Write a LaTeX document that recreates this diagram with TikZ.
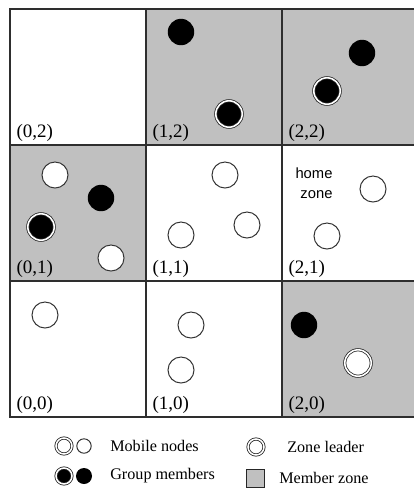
\documentclass[tikz,border=0pt]{standalone}
\usepackage{fontspec}
\setmainfont{Liberation Serif}
\newfontfamily\labelsans{Liberation Sans}
\usetikzlibrary{positioning}
\definecolor{zonegray}{HTML}{C0C0C0}
\definecolor{gridline}{HTML}{2E2E2E}
\tikzset{
  zone/.style={draw=gridline,line width=1pt,minimum size=3.4cm,inner sep=0pt},
  cellname/.style={anchor=base west,font=\fontsize{13.5}{15}\selectfont,inner sep=0pt},
  mnode/.style={circle,draw=black!80,line width=0.7pt,fill=white,minimum size=0.65cm,inner sep=0pt},
  gmember/.style={circle,fill=black,minimum size=0.66cm,inner sep=0pt},
  leader/.style={circle,draw=black!85,line width=0.55pt,double=white,double distance=1.1pt,minimum size=0.66cm,inner sep=0pt},
  keytext/.style={anchor=west,font=\fontsize{11.5}{13}\selectfont,inner sep=0pt},
}
\begin{document}
\begin{tikzpicture}[x=0.025cm,y=-0.025cm,
  smallm/.style={mnode,minimum size=0.36cm},
  smallg/.style={gmember,minimum size=0.4cm},
  smalll/.style={leader,minimum size=0.4cm}]
  \useasboundingbox[fill=white] (0,0) rectangle (414,488);
  % zones of the grid, member zones in gray
  \foreach \c/\r/\f in {0/2/white,1/2/zonegray,2/2/zonegray,0/1/zonegray,1/1/white,2/1/white,0/0/white,1/0/white,2/0/zonegray}{
    \node[zone,fill=\f] (z\c\r) at ({78+136*\c},{77+136*(2-\r)}) {};
    \node[cellname] (n\c\r) at ([shift={(7,-8)}]z\c\r.south west) {(\c,\r)};
  }
  % row 2
  \node[gmember] (g12) at (181,32) {};
  \node[leader,fill=black] (l12) at (229,114) {};
  \node[gmember] (g22) at (362,53) {};
  \node[leader,fill=black] (l22) at (327,91) {};
  % row 1
  \node[mnode] (m01a) at (55,175) {};
  \node[gmember] (g01) at (101,198) {};
  \node[leader,fill=black] (l01) at (41,227) {};
  \node[mnode] (m01b) at (111,258) {};
  \node[mnode] (m11a) at (225,175) {};
  \node[mnode] (m11b) at (181,235) {};
  \node[mnode] (m11c) at (247,225) {};
  \node[align=right,inner sep=0pt,font=\labelsans\fontsize{10.5}{14}\selectfont] (home) at (314,183) {home\\zone};
  \node[mnode] (m21a) at (373,189) {};
  \node[mnode] (m21b) at (327,236) {};
  % row 0
  \node[mnode] (m00) at (45,315) {};
  \node[mnode] (m10a) at (191,325) {};
  \node[mnode] (m10b) at (181,370) {};
  \node[gmember] (g20) at (304,325) {};
  \node[leader,fill=white] (l20) at (358,363) {};
  % legend
  \node[smalll,fill=white] (kml) at (64,446) {};
  \node[smallm] (km) at (84,446) {};
  \node[keytext] (tm) at (110,446) {Mobile nodes};
  \node[smalll,fill=black] (kgl) at (64,476) {};
  \node[smallg] (kg) at (84,476) {};
  \node[keytext] (tg) at (110,476) {Group members};
  \node[smalll,fill=white] (kl) at (256,447) {};
  \node[keytext] (tl) at (287,447) {Zone leader};
  \node[draw=black!85,line width=0.7pt,fill=zonegray,minimum size=0.45cm,inner sep=0pt] (kz) at (255,478) {};
  \node[keytext] (tz) at (279,478) {Member zone};
\end{tikzpicture}
\end{document}
